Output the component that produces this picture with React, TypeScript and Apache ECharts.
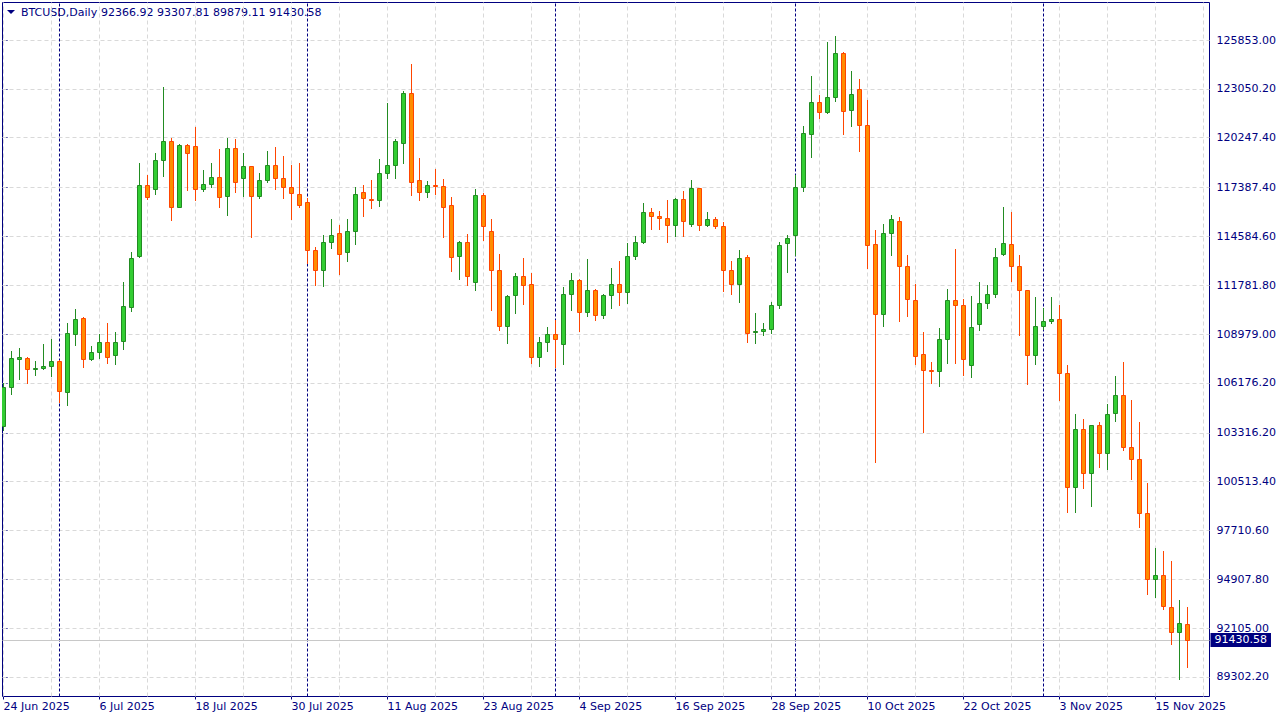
import React, { useEffect, useRef } from 'react';
import * as echarts from 'echarts';

const symbolName = 'BTCUSD';
const periodName = 'Daily';

// Daily candles, index 0 = 24 Jun 2025
const opens = [
  103721, 105925, 107566, 107589, 106958, 107040, 107164, 107434, 105672, 108966,
  109884, 107532, 107933, 108507, 107795, 108599, 110550, 113476, 117516, 117321,
  118950, 120058, 116288, 119811, 119753, 117286, 117573, 117975, 116919, 119639,
  117917, 118606, 116884, 117803, 118663, 117917, 117401, 116999, 116540, 113786,
  112638, 114245, 114761, 113671, 114876, 117114, 116712, 116655, 118204, 118663,
  119926, 122795, 117803, 117114, 117516, 117458, 116368, 113442, 114245, 111984,
  116942, 114876, 112638, 109425, 111204, 112294, 111835, 107646, 108507, 108966,
  108427, 111261, 112065, 110263, 111491, 110056, 111204, 111835, 111376, 113442,
  114245, 115966, 115737, 115622, 115220, 116712, 115278, 117343, 115220, 115565,
  115163, 112638, 111835, 113384, 109081, 109138, 109253, 110630, 114188, 114647,
  117401, 120442, 122278, 121704, 122565, 125090, 121819, 123024, 120958, 114130,
  110114, 114761, 115450, 112868, 110917, 107818, 106900, 106843, 108679, 110917,
  110630, 107187, 109540, 110745, 111261, 113556, 114130, 112868, 111491, 107761,
  109425, 109712, 109827, 106728, 100187, 103515, 100990, 103745, 102138, 104433,
  105466, 102482, 101794, 98695, 94908, 95137, 93301, 91867, 92366.92,
];
const highs = [
  106154, 108008, 108163, 107635, 107434, 108409, 108696, 107491, 109615, 110418,
  109950, 108295, 108983, 109615, 109098, 111950, 113688, 118795, 118107, 119369,
  123156, 120212, 119857, 119885, 120861, 118394, 118795, 119599, 120212, 120172,
  119369, 118650, 118204, 119484, 119713, 119197, 118681, 118795, 116770, 113975,
  114647, 115565, 115220, 115565, 117401, 117516, 117803, 119008, 122221, 120161,
  122909, 124476, 119065, 117745, 118434, 117860, 116827, 114302, 114704, 117286,
  117057, 115565, 113556, 111204, 112466, 113327, 112466, 108794, 109368, 109769,
  111663, 112466, 112122, 113270, 111548, 111261, 112753, 113155, 114188, 114589,
  116483, 116196, 116024, 116655, 116770, 117171, 117803, 117380, 115966, 115680,
  115393, 113155, 113786, 113499, 110171, 109597, 110802, 114245, 114647, 118090,
  120901, 123770, 122680, 125721, 126065, 125147, 124057, 123598, 122410, 114934,
  115278, 115794, 115680, 113499, 111835, 109081, 107359, 109310, 111548, 113843,
  110974, 111146, 111950, 111778, 113901, 116253, 115966, 113499, 111530, 111089,
  110458, 111089, 110630, 107187, 104376, 104089, 103780, 103917, 104949, 106555,
  107359, 105179, 103917, 100416, 96687, 96515, 95941, 93703, 93307.81,
];
const lows = [
  103475, 105540, 106384, 106189, 106631, 106992, 106573, 105099, 104909, 108352,
  107107, 107500, 107606, 107336, 107279, 108123, 110303, 113401, 116747, 117016,
  118049, 115542, 116242, 117246, 116672, 117206, 117401, 116288, 115829, 117148,
  116919, 114566, 116804, 117688, 117286, 116804, 115599, 116253, 113040, 111812,
  111755, 113901, 112443, 113155, 114130, 115737, 116196, 116311, 117906, 117963,
  118778, 116976, 116672, 116816, 116999, 114532, 112615, 112156, 111812, 111525,
  114394, 110378, 109230, 108484, 110206, 110722, 107336, 107164, 108025, 107090,
  107279, 110378, 109173, 110033, 109804, 109919, 110458, 110630, 110745, 113270,
  114200, 114991, 114991, 114245, 114589, 114589, 115163, 114934, 115163, 115048,
  111468, 111296, 110837, 108507, 108450, 108909, 109023, 110458, 112524, 113499,
  117171, 119122, 121360, 121650, 122336, 120442, 120901, 119467, 112788, 101656,
  109425, 113499, 109712, 109999, 107245, 103377, 106154, 105982, 107302, 107302,
  106613, 106499, 109196, 110458, 111089, 113500, 112042, 108942, 106132, 107279,
  109253, 109597, 105213, 98787, 98787, 100129, 99097, 101334, 101220, 103974,
  102310, 100646, 97892, 94047, 93875, 93187, 91178, 89170, 89879.11,
];
const closes = [
  105925, 107589, 107646, 106958, 107032, 107150, 107434, 105730, 109041, 109844,
  107532, 107933, 108507, 107681, 108507, 110573, 113327, 117516, 116862, 118967,
  120058, 116288, 119811, 119352, 117286, 117573, 117975, 116827, 119639, 117722,
  118606, 116884, 117803, 118663, 117917, 117401, 117057, 116368, 113786, 112638,
  114245, 114647, 113556, 114876, 116999, 116770, 116655, 118204, 118663, 120046,
  122795, 117688, 117114, 117516, 117458, 116253, 113419, 114245, 112294, 116942,
  115163, 112638, 109425, 111146, 112294, 111778, 107646, 108507, 108966, 108714,
  111261, 112065, 110228, 111491, 110056, 111204, 111835, 111376, 113442, 114245,
  115966, 115737, 115622, 115220, 116712, 115450, 117343, 115220, 115565, 115163,
  112638, 111835, 113327, 109023, 109138, 109253, 110630, 114073, 114475, 117401,
  120499, 122278, 121704, 122565, 125090, 121762, 122737, 120958, 114073, 110114,
  114761, 115565, 112868, 110974, 107704, 106900, 106843, 108679, 110917, 110630,
  107532, 109368, 110745, 111261, 113384, 114188, 112868, 111491, 107761, 109425,
  109712, 109827, 106728, 100187, 103515, 100990, 103745, 102138, 104376, 105466,
  102482, 101794, 98695, 94908, 95137, 93359, 91867, 92383, 91430.58,
];

const dateTickIndex = [0, 12, 24, 36, 48, 60, 72, 84, 96, 108, 120, 132, 144];
const dateTickLabels = [
  '24 Jun 2025', '6 Jul 2025', '18 Jul 2025', '30 Jul 2025', '11 Aug 2025',
  '23 Aug 2025', '4 Sep 2025', '16 Sep 2025', '28 Sep 2025', '10 Oct 2025',
  '22 Oct 2025', '3 Nov 2025', '15 Nov 2025',
];
const priceTicks = [
  89302.2, 92105.0, 94907.8, 97710.6, 100513.4, 103316.2, 106176.2,
  108979.0, 111781.8, 114584.6, 117387.4, 120247.4, 123050.2, 125853.0,
];
const gridColumnIndex = [
  0, 6, 12, 18, 24, 30, 36, 42, 48, 54, 60, 66, 72, 78, 84, 90, 96, 102, 108,
  114, 120, 126, 132, 138, 144, 150,
];
const monthStartIndex = [7, 38, 69, 99, 130];

const NAVY = '#000080';
const FONT = 'DejaVu Sans';
const BULL_FILL = '#32CD32';
const BULL_EDGE = '#228B22';
const BEAR_FILL = '#FF8C00';
const BEAR_EDGE = '#FF4500';

export default function App() {
  const ref = useRef<HTMLDivElement>(null);

  useEffect(() => {
    if (!ref.current) return;
    const chart = echarts.init(ref.current, null, { renderer: 'svg' });
    const candles = opens.map((o, i) => [i, o, closes[i], lows[i], highs[i]]);
    const n = closes.length - 1;
    const last = closes[n];
    const headerValues = [opens[n], highs[n], lows[n], closes[n]]
      .map((v) => v.toFixed(2))
      .join(' ');

    const renderItem = (params: any, api: any) => {
      const i = api.value(0);
      const o = api.value(1);
      const c = api.value(2);
      const l = api.value(3);
      const h = api.value(4);
      const pO = api.coord([i, o]);
      const pC = api.coord([i, c]);
      const pL = api.coord([i, l]);
      const pH = api.coord([i, h]);
      const cx = Math.floor(pO[0]) + 0.5;
      const bull = c >= o;
      const edge = bull ? BULL_EDGE : BEAR_EDGE;
      const fill = bull ? BULL_FILL : BEAR_FILL;
      const top = Math.round(Math.min(pO[1], pC[1])) + 0.5;
      let bot = Math.round(Math.max(pO[1], pC[1])) + 0.5;
      if (bot - top < 1) bot = top + 1;
      return {
        type: 'group',
        children: [
          {
            type: 'line',
            shape: { x1: cx, y1: Math.round(pH[1]), x2: cx, y2: Math.round(pL[1]) + 1 },
            style: { stroke: edge, lineWidth: 1 },
          },
          {
            type: 'rect',
            shape: { x: cx - 2, y: top, width: 4, height: bot - top },
            style: { fill, stroke: edge, lineWidth: 1 },
          },
        ],
      };
    };

    chart.setOption({
      animation: false,
      backgroundColor: '#ffffff',
      textStyle: { fontFamily: FONT },
      grid: {
        left: 2.5,
        top: 2.5,
        width: 1207,
        height: 694,
        show: true,
        borderColor: NAVY,
        borderWidth: 1,
        backgroundColor: 'transparent',
        containLabel: false,
      },
      xAxis: {
        type: 'value',
        min: -0.125,
        max: 150.75,
        position: 'bottom',
        axisLine: { show: false },
        splitLine: { show: false },
        axisTick: {
          show: true,
          customValues: dateTickIndex,
          length: 3,
          inside: false,
          lineStyle: { color: NAVY },
        },
        axisLabel: {
          show: true,
          customValues: dateTickIndex,
          formatter: (v: number) => {
            const k = dateTickIndex.indexOf(Math.round(v));
            return k >= 0 ? dateTickLabels[k] : '';
          },
          color: NAVY,
          fontSize: 11,
          fontFamily: FONT,
          align: 'left',
          margin: 4,
        },
      },
      yAxis: {
        type: 'value',
        min: 88183,
        max: 128004.75,
        position: 'right',
        axisLine: { show: false },
        splitLine: { show: false },
        axisTick: {
          show: true,
          customValues: priceTicks,
          length: 4,
          lineStyle: { color: NAVY },
        },
        axisLabel: {
          show: true,
          customValues: priceTicks,
          formatter: (v: number) => v.toFixed(2),
          color: NAVY,
          fontSize: 11,
          fontFamily: FONT,
          margin: 7,
        },
      },
      graphic: [
        {
          type: 'polygon',
          shape: { points: [[7, 10], [15, 10], [11, 14]] },
          style: { fill: NAVY },
          silent: true,
        },
        {
          type: 'text',
          x: 21,
          y: 12,
          style: {
            text: `${symbolName},${periodName}`,
            fill: NAVY,
            fontSize: 11,
            fontFamily: FONT,
            verticalAlign: 'middle',
          },
          silent: true,
        },
        {
          type: 'text',
          x: 101,
          y: 12,
          style: {
            text: headerValues,
            fill: NAVY,
            fontSize: 11,
            fontFamily: FONT,
            verticalAlign: 'middle',
          },
          silent: true,
        },
      ],
      series: [
        {
          type: 'line',
          data: [],
          z: 1,
          silent: true,
          markLine: {
            silent: true,
            z: 1,
            symbol: ['none', 'none'],
            label: { show: false },
            emphasis: { disabled: true },
            lineStyle: { color: '#d9d9d9', type: [4, 3], width: 1 },
            data: [
              ...gridColumnIndex.map((v) => ({ xAxis: v })),
              ...priceTicks.map((v) => ({ yAxis: v })),
            ],
          },
        },
        {
          type: 'line',
          data: [],
          z: 1,
          silent: true,
          markLine: {
            silent: true,
            z: 1,
            symbol: ['none', 'none'],
            label: { show: false },
            emphasis: { disabled: true },
            lineStyle: { color: NAVY, type: [3, 2], width: 1 },
            data: monthStartIndex.map((v) => ({ xAxis: v })),
          },
        },
        {
          type: 'line',
          data: [],
          z: 2,
          silent: true,
          markLine: {
            silent: true,
            z: 2,
            symbol: ['none', 'none'],
            emphasis: { disabled: true },
            lineStyle: { color: '#c8c8c8', type: 'solid', width: 1 },
            label: {
              show: true,
              position: 'end',
              distance: 1,
              formatter: last.toFixed(2),
              color: '#ffffff',
              backgroundColor: NAVY,
              padding: [2, 4, 1, 4],
              fontSize: 11,
              fontFamily: FONT,
            },
            data: [{ yAxis: last }],
          },
        },
        {
          type: 'custom',
          z: 3,
          clip: true,
          silent: true,
          data: candles,
          encode: { x: 0, y: [1, 2, 3, 4] },
          renderItem,
        },
      ],
    });

    return () => chart.dispose();
  }, []);

  return (
    <div
      ref={ref}
      style={{ position: 'absolute', left: 0, top: 0, width: 1280, height: 720, background: '#ffffff' }}
    />
  );
}
